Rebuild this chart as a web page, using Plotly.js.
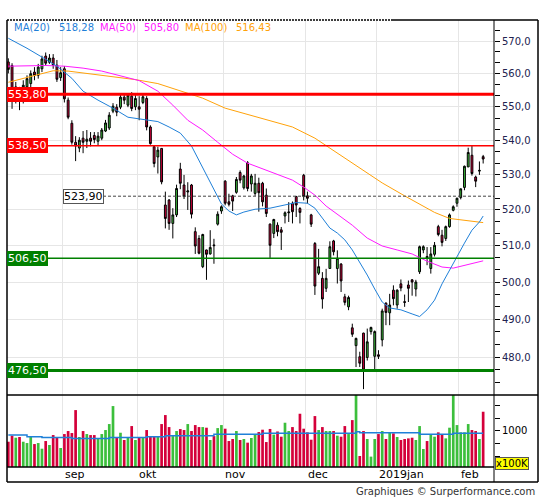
<!DOCTYPE html>
<html><head><meta charset="utf-8">
<script src="https://cdn.plot.ly/plotly-3.0.1.min.js"></script>
<style>html,body{margin:0;padding:0;background:#fff;}#chart{width:545px;height:500px;}</style>
</head><body><div id="chart"></div>
<script>
const dates = [
'2018-08-13','2018-08-14','2018-08-15','2018-08-16','2018-08-17','2018-08-20','2018-08-21','2018-08-22','2018-08-23','2018-08-24','2018-08-27','2018-08-28','2018-08-29','2018-08-30','2018-08-31',
'2018-09-03','2018-09-04','2018-09-05','2018-09-06','2018-09-07','2018-09-10','2018-09-11','2018-09-12','2018-09-13','2018-09-14','2018-09-17','2018-09-18','2018-09-19','2018-09-20','2018-09-21','2018-09-24','2018-09-25','2018-09-26','2018-09-27','2018-09-28',
'2018-10-01','2018-10-02','2018-10-03','2018-10-04','2018-10-05','2018-10-08','2018-10-09','2018-10-10','2018-10-11','2018-10-12','2018-10-15','2018-10-16','2018-10-17','2018-10-18','2018-10-19','2018-10-22','2018-10-23','2018-10-24','2018-10-25','2018-10-26','2018-10-29','2018-10-30','2018-10-31',
'2018-11-01','2018-11-02','2018-11-05','2018-11-06','2018-11-07','2018-11-08','2018-11-09','2018-11-12','2018-11-13','2018-11-14','2018-11-15','2018-11-16','2018-11-19','2018-11-20','2018-11-21','2018-11-22','2018-11-23','2018-11-26','2018-11-27','2018-11-28','2018-11-29','2018-11-30',
'2018-12-03','2018-12-04','2018-12-05','2018-12-06','2018-12-07','2018-12-10','2018-12-11','2018-12-12','2018-12-13','2018-12-14','2018-12-17','2018-12-18','2018-12-19','2018-12-20','2018-12-21','2018-12-24','2018-12-27','2018-12-28','2018-12-31',
'2019-01-02','2019-01-03','2019-01-04','2019-01-07','2019-01-08','2019-01-09','2019-01-10','2019-01-11','2019-01-14','2019-01-15','2019-01-16','2019-01-17','2019-01-18','2019-01-21','2019-01-22','2019-01-23','2019-01-24','2019-01-25','2019-01-28','2019-01-29','2019-01-30','2019-01-31',
'2019-02-01','2019-02-04','2019-02-05','2019-02-06','2019-02-07','2019-02-08','2019-02-11'];

const openP = [563.6,562.5,554.5,555.0,553.0,556.0,557.0,560.5,559.5,561.5,
565.4,563.5,564.8,562.6,558.8,561.5,552.0,545.1,539.5,537.8,
540.7,539.8,540.7,541.5,539.8,540.7,542.8,543.7,548.7,549.9,
549.9,552.9,550.5,553.2,550.0,550.0,551.3,552.5,544.0,538.2,
535.2,537.7,521.4,522.8,516.2,518.6,531.7,527.1,525.1,527.1,
513.9,512.0,504.2,508.8,507.7,510.2,516.0,519.7,528.2,522.3,
524.0,525.0,530.7,526.3,533.5,527.4,524.7,527.6,527.6,524.2,
516.0,513.4,515.7,514.4,518.3,519.2,521.9,523.8,520.4,529.9,
524.0,518.6,510.6,502.4,501.0,498.3,503.7,511.3,503.7,504.9,
496.0,493.3,487.7,483.0,480.1,486.3,479.9,486.7,480.2,480.6,
484.5,494.3,491.7,497.8,493.8,499.5,494.7,499.2,500.6,498.1,
502.8,508.8,507.0,503.7,507.6,515.3,512.9,512.0,515.3,519.9,
521.9,523.5,526.4,532.3,535.7,529.4,531.1,535.3];

const highP = [564.7,563.2,557.5,556.0,558.0,559.5,561.0,562.0,563.0,565.5,
566.5,566.0,566.0,564.2,562.0,562.3,552.8,546.0,541.3,541.0,
542.8,543.1,542.5,542.5,542.5,543.7,546.1,548.4,551.1,550.8,
554.1,554.1,554.0,554.4,553.5,553.2,553.8,553.2,544.5,538.4,
538.2,537.8,525.2,523.1,520.5,527.2,533.5,530.0,527.9,527.4,
515.1,512.9,513.3,508.9,514.3,511.9,519.6,521.3,528.5,524.6,
524.3,529.4,531.3,530.0,534.0,530.3,530.3,529.2,528.0,526.1,
516.2,517.5,516.5,515.2,519.6,522.2,522.4,524.0,520.8,530.3,
525.2,518.9,511.0,509.1,502.7,503.6,511.2,511.6,508.7,505.2,
496.8,496.3,488.8,485.1,481.4,486.4,487.5,488.0,487.0,481.8,
492.8,494.5,496.8,499.1,498.0,500.7,496.6,500.4,500.8,500.6,
510.0,510.1,509.6,509.6,511.0,515.8,514.4,515.6,519.0,521.3,
523.5,526.1,532.7,537.9,538.4,529.8,533.9,535.8];

const lowP = [560.1,549.4,551.0,549.0,551.0,554.0,555.5,558.0,558.5,560.5,
562.5,563.0,561.5,557.5,557.8,551.3,546.3,538.8,534.0,536.6,
536.3,537.8,538.3,539.2,538.5,540.1,542.5,543.1,548.1,547.2,
549.3,550.8,549.9,548.7,549.0,546.0,550.8,543.0,538.8,532.2,
530.4,527.3,514.8,514.4,512.0,518.0,525.9,523.1,520.0,517.6,
507.7,507.6,503.8,500.6,507.5,505.0,515.6,518.9,521.3,521.0,
519.7,524.6,527.6,525.8,525.3,525.2,524.0,519.5,521.0,518.0,
506.6,512.1,512.6,508.8,516.2,516.6,516.2,518.0,516.2,522.7,
521.8,515.2,496.5,501.9,492.8,497.3,503.6,507.3,499.6,497.3,
493.7,492.4,485.3,477.4,477.4,471.7,479.1,485.9,476.6,479.5,
482.8,488.4,488.4,493.7,492.8,497.5,493.3,494.6,496.3,496.1,
502.2,507.9,504.6,502.3,507.0,512.6,509.8,511.3,515.0,519.6,
520.9,523.0,525.6,532.3,529.8,526.5,530.0,533.3];

const closeP = [561.3,553.2,556.0,552.0,556.5,558.5,560.0,559.5,562.0,564.5,
563.2,564.8,562.6,558.3,560.3,552.4,546.9,539.5,538.4,540.1,
539.5,540.4,539.8,540.3,541.3,543.1,545.2,547.5,550.2,548.4,
552.9,552.0,553.5,549.5,552.5,549.3,553.0,544.0,539.1,533.3,
537.2,528.0,517.6,516.2,518.6,526.1,527.6,523.8,525.4,518.8,
509.9,507.9,513.1,507.6,509.5,510.0,518.8,520.9,521.9,521.6,
522.5,528.7,528.5,529.7,526.1,529.7,527.6,524.9,522.3,519.0,
510.1,517.3,513.9,513.7,519.2,519.4,519.5,521.4,519.3,523.8,
523.3,516.0,498.9,504.2,495.4,501.0,509.7,508.3,506.5,500.3,
494.5,495.8,486.0,484.9,478.4,476.6,484.0,487.8,486.7,480.2,
492.2,491.8,493.8,495.5,497.8,498.4,494.5,498.3,500.0,500.0,
509.7,509.7,506.5,507.7,510.1,513.1,510.9,515.3,518.6,520.9,
523.3,526.0,532.5,536.5,530.4,528.2,531.3,534.6];

// volume in units of 100K
const volume = [827,923,891,902,827,806,917,790,806,716,
838,775,933,891,727,949,997,965,1330,902,
997,949,933,933,880,949,1013,1108,1394,896,
970,854,896,1076,854,896,896,1013,917,917,
917,1108,1251,1060,917,997,1028,1013,1108,997,
1092,1060,1060,1050,854,917,1044,1092,1034,838,
870,997,854,870,812,886,949,981,1018,822,
1030,940,990,907,1129,997,1060,997,1272,1034,
976,859,1235,1013,1060,997,997,997,923,907,
1076,949,1171,1700,600,997,870,590,870,949,
997,870,976,960,902,854,870,880,891,854,
1076,711,838,944,907,976,944,880,1050,1700,
1092,976,976,1108,1013,997,870,1304];

const ma20Idx = [0,5,10,13,17,20,24,28,32,36,40,43,46,49,52,55,57,59,61,63,66,70,74,77,80,82,84,86,88,90,92,94,96,98,100,102,105,108,110,112,114,116,118,120,122,124,126,127];
const ma20Val = [570.9,567.8,564.4,562.3,558.6,554.7,552.0,549.6,546.9,546.2,545.6,544.0,542.2,538.4,532.0,525.6,521.7,519.7,518.6,519.4,520.2,520.5,521.4,522.1,521.9,520.5,517.7,514.9,513.5,511.6,508.8,505.5,501.9,498.1,494.6,493.0,492.5,491.4,490.7,492.5,495.1,499.5,503.3,506.9,510.7,514.3,516.6,518.28];

const ma50Idx = [0,10,15,20,25,30,35,40,44,48,52,56,60,64,68,72,76,79,82,85,88,92,96,100,104,108,112,116,119,122,125,127];
const ma50Val = [562.3,562.5,562.3,561.7,560.8,559.3,557.9,554.7,550.5,546.0,543.1,539.5,536.0,533.4,531.7,530.2,528.5,526.5,524.2,521.1,518.8,515.7,512.1,509.9,508.8,507.7,505.7,504.1,503.8,504.6,505.3,505.80];

const ma100Idx = [0,6,12,16,22,28,34,40,46,52,58,64,70,76,82,88,94,100,106,110,114,118,122,127];
const ma100Val = [557.4,559.1,560.9,560.8,559.9,559.1,558.2,557.0,554.7,552.6,549.6,547.7,546.0,544.0,540.7,536.3,532.0,527.7,524.0,521.7,519.3,517.6,517.1,516.43];

const volMaIdx = [0,5,9,17,27,37,42,55,68,93,94,110,119,127];
const volMaVal = [933,907,896,880,896,907,923,944,960,986,970,944,960,960];

const levels = [553.80, 538.50, 523.90, 506.50, 476.50];
const monthLabels = ['sep','okt','nov','dec','2019jan','feb'];
const priceTicks = [480,490,500,510,520,530,540,550,560,570];
const volTicks = [600,800,1000,1200,1400];
const volLabelTick = 1000;

// ---------- styling ----------
const RED = '#d4003a', GREEN = '#3cbf3c';
const C20 = '#1f80d8', C50 = '#ff19ff', C100 = '#ffa20a';
const FONT = 'DejaVu Sans, Verdana, sans-serif';
const levelStyles = [
  {color:'#ff0000', width:3, dash:'solid', bg:'#ff0000', fc:'#ffffff', border:'#ff0000', xp:0},
  {color:'#ff0000', width:1.5, dash:'solid', bg:'#ff0000', fc:'#ffffff', border:'#ff0000', xp:0},
  {color:'#444444', width:1, dash:'3px,2px', bg:'#ffffff', fc:'#000000', border:'#555555', xp:0.115},
  {color:'#008000', width:1.5, dash:'solid', bg:'#008000', fc:'#ffffff', border:'#008000', xp:0},
  {color:'#008000', width:3, dash:'solid', bg:'#008000', fc:'#ffffff', border:'#008000', xp:0}
];
const fmt = (v, d) => v.toFixed(d).replace('.', ',');

const xs = dates.map((d, i) => i);
const bounds = [];
for (let i = 1; i < dates.length; i++) {
  if (dates[i].slice(0,7) !== dates[i-1].slice(0,7)) bounds.push(i - 0.5);
}
const volColors = xs.map(i => closeP[i] >= openP[i] ? GREEN : RED);

const minorTicks = [];
[470].concat(priceTicks).forEach(t => { minorTicks.push(t + 10/3, t + 20/3); });

const traces = [
  {type:'bar', x:xs, y:volume, xaxis:'x', yaxis:'y2', marker:{color:volColors, line:{width:0}}, width:0.72, hoverinfo:'skip'},
  {type:'scatter', mode:'lines', x:volMaIdx, y:volMaVal, xaxis:'x', yaxis:'y2', line:{color:C20, width:1.5, shape:'hv'}, hoverinfo:'skip'},
  {type:'scatter', mode:'lines', x:ma100Idx, y:ma100Val, xaxis:'x', yaxis:'y', line:{color:C100, width:1}, hoverinfo:'skip'},
  {type:'scatter', mode:'lines', x:ma50Idx, y:ma50Val, xaxis:'x', yaxis:'y', line:{color:C50, width:1}, hoverinfo:'skip'},
  {type:'scatter', mode:'lines', x:ma20Idx, y:ma20Val, xaxis:'x', yaxis:'y', line:{color:C20, width:1}, hoverinfo:'skip'},
  {type:'candlestick', x:xs, open:openP, high:highP, low:lowP, close:closeP, xaxis:'x', yaxis:'y',
   increasing:{line:{color:'#000000', width:1}, fillcolor:GREEN},
   decreasing:{line:{color:'#000000', width:1}, fillcolor:RED},
   whiskerwidth:0, hoverinfo:'skip'},
  {type:'scatter', mode:'markers', x:[xs[0]], y:[closeP[0]], xaxis:'x', yaxis:'y3', marker:{opacity:0}, hoverinfo:'skip'}
];

const px = v => (v - 7) / 487;
const py = v => (467 - v) / 447;

const shapes = [];
levels.forEach((lv, k) => {
  const s = levelStyles[k];
  shapes.push({type:'line', xref:'paper', yref:'y', x0:s.xp, x1:1, y0:lv, y1:lv,
    line:{color:s.color, width:s.width, dash:s.dash}, layer:'above'});
});
// frame
const frame = {color:'#000', width:1.5};
shapes.push({type:'line', xref:'paper', yref:'paper', x0:0, x1:0, y0:py(482), y1:1, line:frame});
shapes.push({type:'line', xref:'paper', yref:'paper', x0:px(538), x1:px(538), y0:py(482), y1:1, line:frame});
shapes.push({type:'line', xref:'paper', yref:'paper', x0:0, x1:px(538), y0:py(482), y1:py(482), line:frame});
shapes.push({type:'line', xref:'paper', yref:'paper', x0:0, x1:px(393), y0:1, y1:1, line:{color:'#000', width:1.5, dash:'2px,1px'}});
shapes.push({type:'line', xref:'paper', yref:'paper', x0:px(393), x1:px(538), y0:1, y1:1, line:frame});
shapes.push({type:'line', xref:'paper', yref:'paper', x0:0, x1:px(538), y0:py(395), y1:py(395), line:frame});
shapes.push({type:'line', xref:'paper', yref:'paper', x0:0, x1:1, y0:0, y1:0, line:frame});
shapes.push({type:'line', xref:'paper', yref:'paper', x0:1, x1:1, y0:py(482), y1:1, line:{color:'#000', width:1}});

const annotations = [];
levels.forEach((lv, k) => {
  const s = levelStyles[k];
  annotations.push({xref:'paper', yref:'y', x:s.xp, y:Math.log10(lv), xanchor:'left', yanchor:'middle',
    text:fmt(lv, 2), showarrow:false, bgcolor:s.bg, bordercolor:s.border, borderwidth:1, borderpad:0,
    font:{family:FONT, size:11, color:s.fc}});
});
bounds.forEach((b, k) => {
  annotations.push({xref:'x', yref:'paper', x:b, y:py(474), xanchor:'left', yanchor:'middle',
    text:monthLabels[k], showarrow:false, font:{family:FONT, size:11, color:'#000'}});
});
const legendItems = [
  {t:'MA(20)', c:C20, x:13}, {t:fmt(ma20Val[ma20Val.length-1],2), c:C20, x:58},
  {t:'MA(50)', c:C50, x:99}, {t:fmt(ma50Val[ma50Val.length-1],2), c:C50, x:143},
  {t:'MA(100)', c:C100, x:184}, {t:fmt(ma100Val[ma100Val.length-1],2), c:C100, x:235}
];
legendItems.forEach(it => {
  annotations.push({xref:'paper', yref:'paper', x:px(it.x), y:py(27), xanchor:'left', yanchor:'middle',
    text:it.t, showarrow:false, borderpad:0, font:{family:FONT, size:10, color:it.c}});
});
annotations.push({xref:'paper', yref:'paper', x:px(495), y:py(463), xanchor:'left', yanchor:'middle',
  text:'x100K', showarrow:false, bgcolor:'#ffff00', bordercolor:'#555', borderwidth:1, borderpad:0,
  font:{family:FONT, size:10, color:'#000'}});
annotations.push({xref:'paper', yref:'paper', x:px(537), y:py(491.5), xanchor:'right', yanchor:'middle',
  text:'Graphiques © Surperformance.com', showarrow:false, font:{family:FONT, size:10, color:'#333'}});

const priceRange = [Math.log10(470.2), Math.log10(576.6)];
const layout = {
  width:545, height:500,
  margin:{l:7, r:51, t:20, b:33, pad:0},
  paper_bgcolor:'#ffffff', plot_bgcolor:'#ffffff',
  showlegend:false, hovermode:false,
  xaxis:{domain:[0,1], anchor:'y2', range:[-0.35, 129.9], tickmode:'array', tickvals:bounds,
    showticklabels:false, ticks:'', showgrid:true, gridcolor:'#e6e6e6', gridwidth:1,
    zeroline:false, showline:false, rangeslider:{visible:false}, fixedrange:true},
  yaxis:{domain:[py(395), 1], anchor:'x', side:'right', type:'log', range:priceRange,
    tickmode:'array', tickvals:priceTicks, ticktext:priceTicks.map(v => fmt(v,1)),
    ticks:'outside', ticklen:5, tickcolor:'#000', tickwidth:1,
    showline:false, showgrid:true, gridcolor:'#e6e6e6', zeroline:false,
    tickfont:{family:FONT, size:10, color:'#222250'}},
  yaxis3:{overlaying:'y', anchor:'x', side:'right', type:'log', range:priceRange,
    tickmode:'array', tickvals:minorTicks, ticks:'outside', ticklen:5, tickcolor:'#000', tickwidth:1,
    showticklabels:false, showgrid:false, zeroline:false, showline:false},
  yaxis2:{domain:[0, py(395)], anchor:'x', side:'right', range:[425, 1570],
    tickmode:'array', tickvals:volTicks, ticktext:volTicks.map(v => v === volLabelTick ? String(v) : ''),
    ticks:'outside', ticklen:5, tickcolor:'#000', tickwidth:1,
    showline:false, showgrid:false, zeroline:false,
    tickfont:{family:FONT, size:10, color:'#000'}},
  shapes:shapes, annotations:annotations
};

Plotly.newPlot('chart', traces, layout, {staticPlot:true, displayModeBar:false});
</script>
</body></html>
